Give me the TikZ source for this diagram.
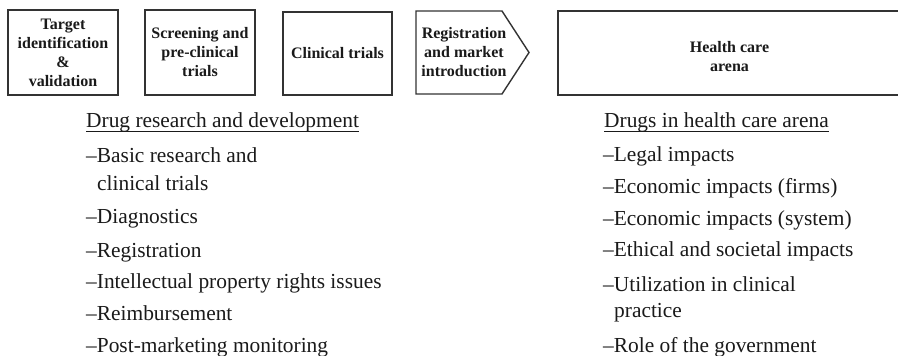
\documentclass[tikz,border=0pt]{standalone}
\usepackage{fontspec}
\setmainfont{Liberation Serif}
\definecolor{ink}{HTML}{1A1A1A}
\definecolor{edge}{HTML}{333333}
\tikzset{
  stagebox/.style={draw=edge, line width=1.4pt, align=center, text=ink, inner sep=0pt,
    font=\bfseries\fontsize{16}{19}\selectfont},
  stagetext/.style={align=center, text=ink, inner sep=0pt, font=\bfseries\fontsize{16}{19}\selectfont},
  listitem/.style={anchor=base west, inner sep=0pt, text=ink, font=\fontsize{21.4}{25}\selectfont},
  uline/.style={draw=ink, line width=0.9pt}
}
\begin{document}
\begin{tikzpicture}[x=1pt, y=-1pt]
\clip (0,0) rectangle (898,356);
\fill[white] (0,0) rectangle (898,356);
% stage boxes
\node[stagebox, minimum width=110pt, minimum height=85pt] (target) at (63,52.5) {Target\\identification\\\&\\validation};
\node[stagebox, minimum width=110pt, minimum height=85pt] (screen) at (200,52.5) {Screening and\\pre-clinical\\trials};
\node[stagebox, minimum width=109pt, minimum height=83pt] (clin) at (337.5,53.5) {Clinical trials};
\draw[draw=edge, line width=1.4pt] (416,11) -- (502,11) -- (529,52.5) -- (502,94) -- (416,94) -- cycle;
\node[stagetext] (reg) at (464,52) {Registration\\and market\\introduction};
\draw[draw=edge, line width=1.4pt] (910,11) -- (558,11) -- (558,95) -- (910,95);
\node[stagetext] (arena) at (729.5,57) {Health care\\arena};
% left list
\node[listitem] (lh) at (86,127) {Drug research and development};
\draw[uline] ([yshift=-4pt]lh.base west) -- ([yshift=-4pt]lh.base east);
\node[listitem] (l1) at (86,162) {–Basic research and};
\node[listitem] (l1b) at (97,190) {clinical trials};
\node[listitem] (l2) at (86,223) {–Diagnostics};
\node[listitem] (l3) at (86,257) {–Registration};
\node[listitem] (l4) at (86,288) {–Intellectual property rights issues};
\node[listitem] (l5) at (86,320) {–Reimbursement};
\node[listitem] (l6) at (86,352) {–Post-marketing monitoring};
% right list
\node[listitem] (rh) at (604,127) {Drugs in health care arena};
\draw[uline] ([yshift=-4pt]rh.base west) -- ([yshift=-4pt]rh.base east);
\node[listitem] (r1) at (603,161) {–Legal impacts};
\node[listitem] (r2) at (603,193) {–Economic impacts (firms)};
\node[listitem] (r3) at (603,225) {–Economic impacts (system)};
\node[listitem] (r4) at (603,256) {–Ethical and societal impacts};
\node[listitem] (r5) at (603,291) {–Utilization in clinical};
\node[listitem] (r5b) at (614,317) {practice};
\node[listitem] (r6) at (603,352) {–Role of the government};
\end{tikzpicture}
\end{document}
